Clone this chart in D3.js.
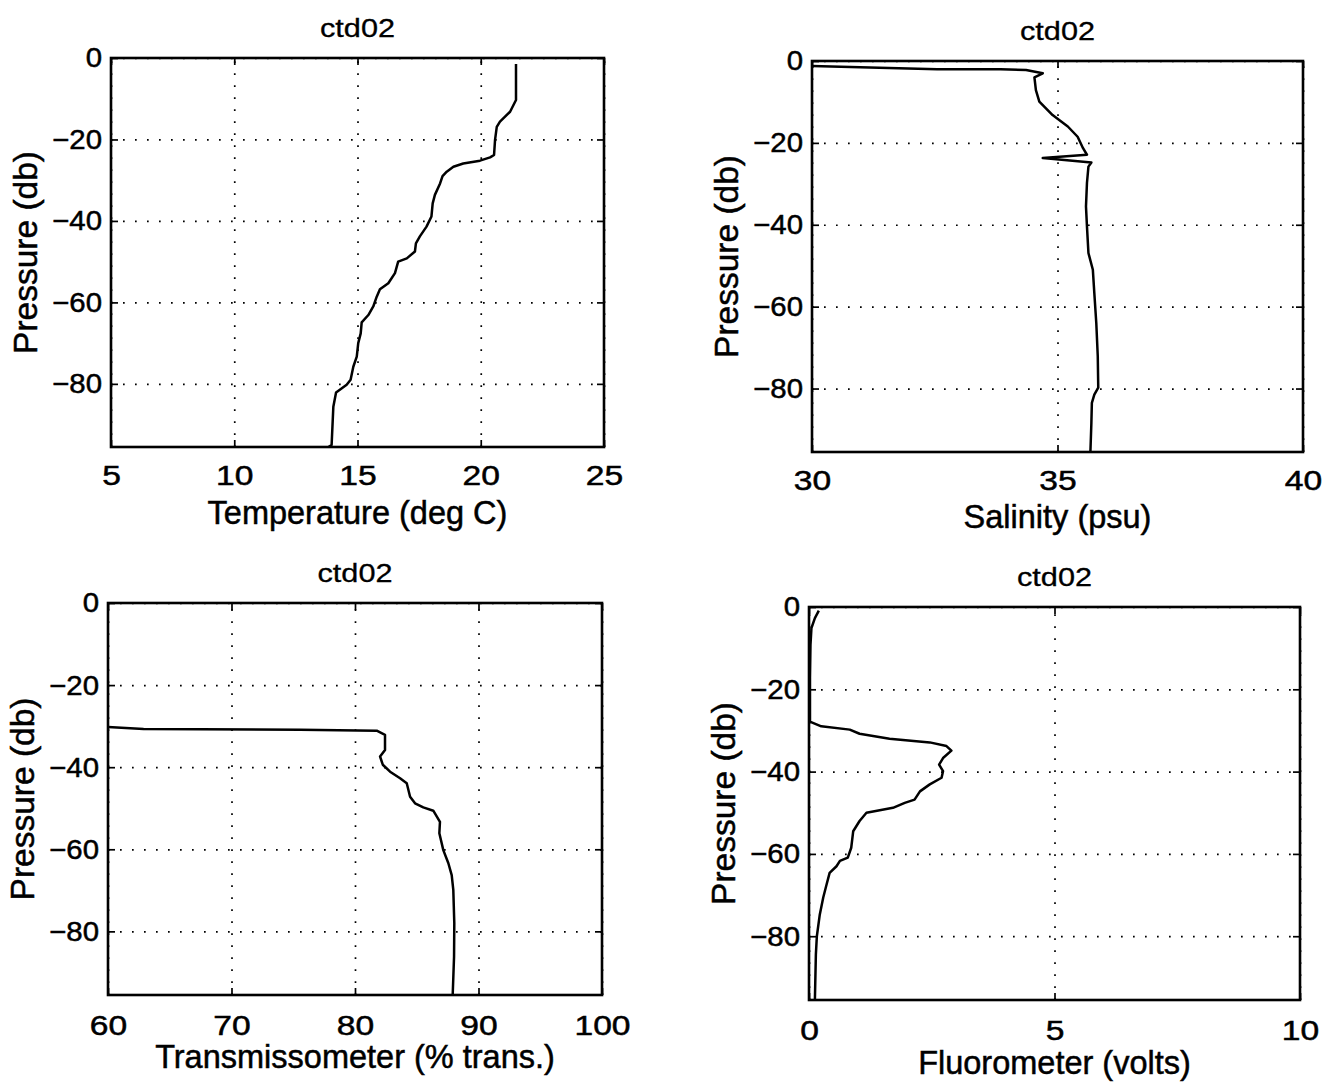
<!DOCTYPE html>
<html>
<head>
<meta charset="utf-8">
<script src="https://cdn.jsdelivr.net/npm/d3@7"></script>
<style>
  body { margin: 0; background: #fff; }
  svg text { font-family: "Liberation Sans", Arial, Helvetica, sans-serif; fill: #000; }
</style>
</head>
<body>
<div id="chart"></div>
<script>
document.addEventListener("DOMContentLoaded", function() {

  // ---- data ----
  const station = "ctd02";
  const pressureTicks = [0, -20, -40, -60, -80];
  const pressureDomain = [-95.5, 0];

  const tempTicks = [5, 10, 15, 20, 25];
  const tempValues = [21.43, 21.43, 21.19, 20.78, 20.65, 20.58, 20.54, 20.38, 19.97, 19.29, 18.89, 18.62, 18.45, 18.35,
    18.14, 18.05, 18.0, 17.80, 17.53, 17.37, 17.33, 17.0, 16.65, 16.52, 16.25, 15.91, 15.78, 15.64, 15.44, 15.17,
    15.13, 15.03, 14.97, 14.83, 14.72, 14.56, 14.13, 14.02, 13.95, 13.82];
  const tempPressure = [-1.5, -10.3, -13.2, -15.6, -16.9, -20.1, -23.8, -24.4, -25.2, -25.9, -26.7, -27.9, -29.0, -30.8,
    -33.6, -35.7, -38.9, -41.4, -43.8, -45.5, -47.5, -49.2, -50.0, -52.8, -55.3, -56.8, -58.6, -61.0, -63.1, -64.9,
    -67.6, -70.0, -73.3, -75.8, -79.0, -80.2, -82.1, -85.6, -95.0, -95.5];

  const salTicks = [30, 35, 40];
  const salValues = [30.0, 32.55, 33.84, 34.36, 34.70, 34.53, 34.56, 34.63, 34.90, 35.21, 35.41, 35.52, 35.60, 34.70,
    35.69, 35.63, 35.60, 35.58, 35.60, 35.63, 35.72, 35.75, 35.79, 35.82, 35.83, 35.75, 35.70, 35.69, 35.67];
  const salPressure = [-1.2, -2.0, -2.0, -2.2, -3.0, -4.0, -7.1, -9.9, -13.2, -16.0, -18.5, -21.3, -22.9, -23.7,
    -24.8, -25.8, -29.8, -35.5, -40.4, -46.9, -51.0, -56.7, -64.0, -72.1, -79.8, -81.5, -83.5, -88.4, -95.5];

  const transTicks = [60, 70, 80, 90, 100];
  const transValues = [60.0, 62.88, 75.56, 81.76, 82.43, 82.43, 82.03, 82.25, 82.84, 83.65, 84.19, 84.46, 84.86, 85.53,
    86.34, 86.88, 86.83, 87.15, 87.56, 87.83, 87.96, 88.04, 88.02, 87.91];
  const transPressure = [-30.2, -30.7, -30.9, -31.1, -32.1, -35.8, -37.4, -39.4, -41.1, -42.7, -43.9, -47.2, -48.8, -49.8,
    -50.6, -53.3, -56.1, -60.2, -63.4, -66.3, -69.9, -78.0, -86.2, -95.5];

  const fluorTicks = [0, 5, 10];
  const fluorValues = [0.20, 0.12, 0.05, 0.03, 0.02, 0.02, 0.03, 0.25, 0.83, 1.03, 1.64, 2.46, 2.80, 2.90, 2.73, 2.65,
    2.73, 2.70, 2.46, 2.26, 2.15, 1.95, 1.71, 1.44, 1.17, 1.03, 0.90, 0.86, 0.79, 0.63, 0.56, 0.42, 0.35, 0.29, 0.22,
    0.16, 0.14, 0.12];
  const fluorPressure = [-0.9, -2.7, -5.1, -9.2, -17.2, -27.8, -27.9, -29.0, -29.8, -30.8, -32.0, -32.9, -33.8, -34.9,
    -36.7, -38.3, -39.9, -41.5, -43.1, -44.8, -46.8, -47.6, -48.8, -49.4, -50.0, -52.0, -54.5, -58.5, -60.9, -61.7,
    -63.0, -64.6, -67.8, -70.6, -74.7, -80.0, -84.4, -95.5];

  // ---- layout: one entry per subplot (left, top, right, bottom in px) ----
  const panels = [
    { xlabel: "Temperature (deg C)", ticks: tempTicks, xs: tempValues, ps: tempPressure,
      box: [111, 58, 604, 447], tickGap: 38, labelGap: 77 },
    { xlabel: "Salinity (psu)", ticks: salTicks, xs: salValues, ps: salPressure,
      box: [812, 61, 1303, 452], tickGap: 38, labelGap: 76 },
    { xlabel: "Transmissometer (% trans.)", ticks: transTicks, xs: transValues, ps: transPressure,
      box: [108, 603, 602, 995], tickGap: 40, labelGap: 73 },
    { xlabel: "Fluorometer (volts)", ticks: fluorTicks, xs: fluorValues, ps: fluorPressure,
      box: [809, 607, 1300, 1000], tickGap: 40, labelGap: 74 }
  ];

  // the scanned lettering is a bit wider than Helvetica, stretch it horizontally
  const tickFont = 28, xTickStretch = 1.2, yTickStretch = 1.05;
  const titleFont = 26, titleStretch = 1.18;
  const xlabelFont = 32.5, ylabelFont = 33.5;

  const svg = d3.select("#chart").append("svg")
    .attr("width", 1337)
    .attr("height", 1087);

  function stretch(sel, sx) {
    sel.each(function() {
      const t = d3.select(this);
      const x = +t.attr("x") || 0, y = +t.attr("y") || 0;
      t.attr("x", null).attr("y", null)
        .attr("transform", `translate(${x},${y}) scale(${sx},1)`);
    });
  }

  panels.forEach(function(p) {
    const [left, top, right, bottom] = p.box;
    const w = right - left, h = bottom - top;

    const x = d3.scaleLinear().domain(d3.extent(p.ticks)).range([0, w]);
    const y = d3.scaleLinear().domain(pressureDomain).range([h, 0]);

    const g = svg.append("g").attr("transform", `translate(${left},${top})`);

    // dotted grid
    g.append("g")
      .attr("transform", `translate(0,${h})`)
      .call(d3.axisBottom(x).tickValues(p.ticks).tickSize(-h).tickFormat(""))
      .call(s => s.select(".domain").remove())
      .selectAll("line")
      .attr("stroke", "#000").attr("stroke-width", 1.7).attr("stroke-dasharray", "1.7 10.3");
    g.append("g")
      .call(d3.axisLeft(y).tickValues(pressureTicks).tickSize(-w).tickFormat(""))
      .call(s => s.select(".domain").remove())
      .selectAll("line")
      .attr("stroke", "#000").attr("stroke-width", 1.7).attr("stroke-dasharray", "1.7 10.3");

    // profile
    const line = d3.line()
      .x((d, i) => x(p.xs[i]))
      .y(d => y(d));
    g.append("path")
      .attr("d", line(p.ps))
      .attr("fill", "none")
      .attr("stroke", "#000")
      .attr("stroke-width", 2.5)
      .attr("stroke-linejoin", "round");

    // axes with inward ticks
    const xAxis = g.append("g")
      .attr("transform", `translate(0,${h})`)
      .call(d3.axisBottom(x).tickValues(p.ticks).tickSizeInner(-7).tickSizeOuter(0)
        .tickPadding(p.tickGap - 20).tickFormat(d3.format("")));
    const yAxis = g.append("g")
      .call(d3.axisLeft(y).tickValues(pressureTicks).tickSizeInner(-7).tickSizeOuter(0)
        .tickPadding(9).tickFormat(d3.format("")));
    g.append("g")
      .call(d3.axisTop(x).tickValues(p.ticks).tickSizeInner(-7).tickSizeOuter(0).tickFormat(""));
    g.append("g")
      .attr("transform", `translate(${w},0)`)
      .call(d3.axisRight(y).tickValues(pressureTicks).tickSizeInner(-7).tickSizeOuter(0).tickFormat(""));

    g.selectAll(".domain").remove();
    g.selectAll(".tick line").filter(function() { return !this.getAttribute("stroke-dasharray"); })
      .attr("stroke", "#000").attr("stroke-width", 1.7);
    [[xAxis, xTickStretch], [yAxis, yTickStretch]].forEach(function([a, sx]) {
      a.attr("font-size", null).attr("font-family", null);
      const txt = a.selectAll("text")
        .attr("font-size", tickFont)
        .attr("fill", "#000")
        .attr("stroke", "#000").attr("stroke-width", 0.5);
      stretch(txt, sx);
    });

    // frame
    g.append("rect")
      .attr("width", w).attr("height", h)
      .attr("fill", "none").attr("stroke", "#000").attr("stroke-width", 2.6);

    // title and labels
    g.append("text")
      .attr("transform", `translate(${w / 2},-21) scale(${titleStretch},1)`)
      .attr("text-anchor", "middle")
      .attr("font-size", titleFont)
      .attr("stroke", "#000").attr("stroke-width", 0.3)
      .text(station);
    g.append("text")
      .attr("x", w / 2).attr("y", h + p.labelGap)
      .attr("text-anchor", "middle")
      .attr("font-size", xlabelFont)
      .attr("stroke", "#000").attr("stroke-width", 0.5)
      .text(p.xlabel);
    g.append("text")
      .attr("transform", `translate(-74,${h / 2}) rotate(-90)`)
      .attr("text-anchor", "middle")
      .attr("font-size", ylabelFont)
      .attr("stroke", "#000").attr("stroke-width", 0.5)
      .text("Pressure (db)");
  });
});
</script>
</body>
</html>
